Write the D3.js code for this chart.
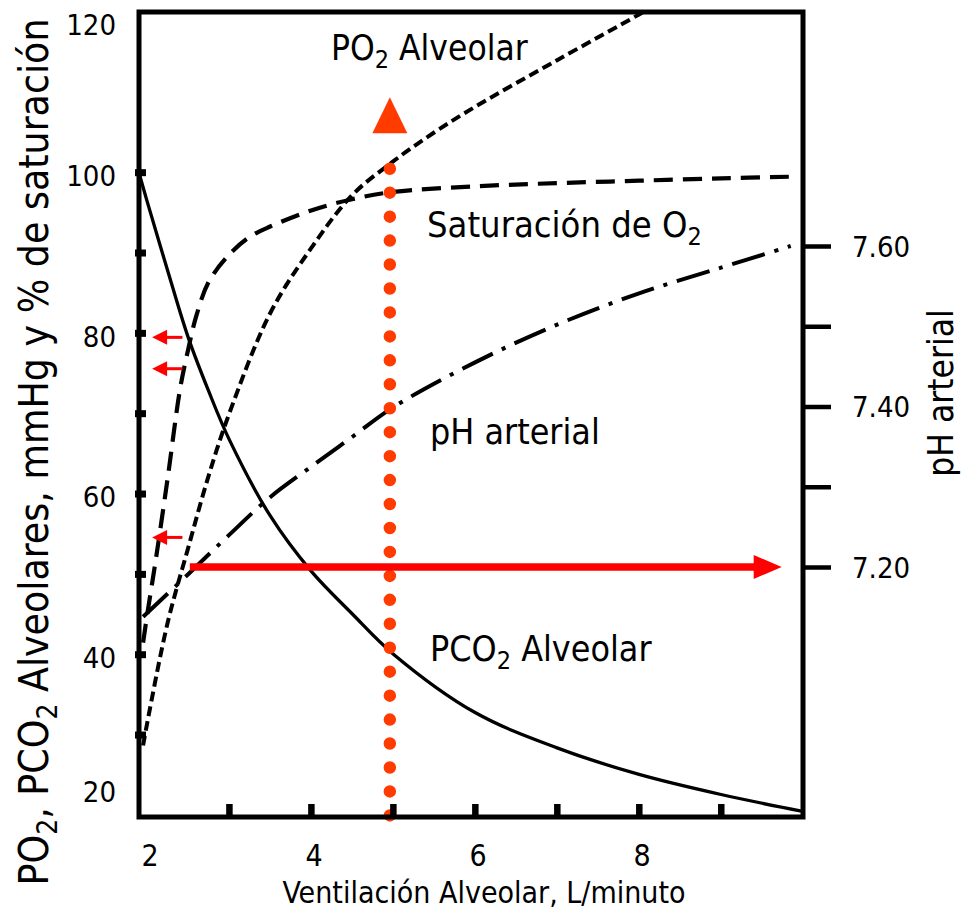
<!DOCTYPE html>
<html>
<head>
<meta charset="utf-8">
<script src="https://cdn.jsdelivr.net/npm/d3@7"></script>
<style>
  body { margin: 0; background: #fff; }
  svg text { font-family: "DejaVu Sans Condensed", "DejaVu Sans", sans-serif; font-stretch: condensed; fill: #000; }
</style>
</head>
<body>
<svg id="chart" width="967" height="916"></svg>
<script>
// ---------------- data ----------------
// PCO2 alveolar (mmHg) vs ventilación alveolar (L/min)
const pco2Vent = [1.9, 2.0, 2.25, 2.5, 2.75, 3, 3.5, 4, 4.5, 5, 6, 7, 8, 9, 10];
const pco2Vals = [100, 96.4, 87.8, 79.5, 72.8, 66.8, 57.3, 50.4, 45.1, 40.1, 32.8, 28.4, 25.1, 22.6, 20.5];

// PO2 alveolar (mmHg)
const po2Vent = [1.95, 2.0, 2.25, 2.5, 2.75, 3, 3.5, 4, 4.5, 5, 5.5, 6, 7, 8, 8.3];
const po2Vals = [28.7, 31.5, 44, 53.3, 62.3, 70, 82.5, 90.6, 97.2, 101.4, 105, 108.2, 114, 119.7, 121.5];

// Saturación de O2 (%)
const satVent = [1.95, 2.0, 2.1, 2.25, 2.4, 2.5, 2.6, 2.75, 3, 3.25, 3.5, 4, 4.5, 5, 6, 7, 8, 9, 9.85];
const satVals = [41.5, 45, 51.5, 62, 73, 78, 82.2, 86.4, 89.8, 92, 93.3, 95.3, 96.7, 97.6, 98.3, 98.7, 99, 99.3, 99.5];

// pH arterial
const phVent = [1.95, 2.5, 3, 3.5, 4, 4.5, 5, 6, 7, 8, 9, 9.85];
const phVals = [7.138, 7.191, 7.24, 7.287, 7.325, 7.362, 7.399, 7.455, 7.502, 7.541, 7.573, 7.6];

// ejes
const xTicks = [3, 4, 5, 6, 7, 8, 9];
const xLabels = [2, 4, 6, 8];
const yTicks = [30, 40, 50, 60, 70, 80, 90, 100];
const yLabels = [20, 40, 60, 80, 100, 120];
const phTicks = [7.2, 7.3, 7.4, 7.5, 7.6];
const phLabels = [7.2, 7.4, 7.6];

// flechas
const ventMarker = 4.96;       // línea vertical punteada
const ventMarkerTop = 103.4;
const phArrow = { value: 7.2, from: 2.52, to: 9.74 };
const leftArrows = [79.5, 75.6, 54.6];   // mmHg / %
const leftArrowFrom = 2.43, leftArrowTo = 2.06;

// ---------------- dimensiones ----------------
const svg = d3.select("#chart");
const mLeft = 139, mRight = 803, mTop = 12, mBottom = 817;

const x = d3.scaleLinear().domain([1.9, 10]).range([mLeft, mRight]);
const y = d3.scaleLinear().domain([19.8, 120]).range([mBottom, mTop]);
const yPh = d3.scaleLinear().domain([7.2, 7.6]).range([567, 246]);

svg.append("clipPath").attr("id", "plot")
  .append("rect")
  .attr("x", mLeft).attr("y", mTop)
  .attr("width", mRight - mLeft).attr("height", mBottom - mTop);

const g = svg.append("g").attr("clip-path", "url(#plot)");

const line = d3.line().curve(d3.curveCatmullRom.alpha(0.5));
const pts = (xs, ys, sy) => xs.map((v, i) => [x(v), sy(ys[i])]);

// PCO2 - línea continua
g.append("path")
  .attr("d", line(pts(pco2Vent, pco2Vals, y)))
  .attr("fill", "none").attr("stroke", "#000").attr("stroke-width", 3.3);

// PO2 - guiones cortos
g.append("path")
  .attr("d", line(pts(po2Vent, po2Vals, y)))
  .attr("fill", "none").attr("stroke", "#000").attr("stroke-width", 4)
  .attr("stroke-dasharray", "10,5");

// Saturación - guiones largos
g.append("path")
  .attr("d", line(pts(satVent, satVals, y)))
  .attr("fill", "none").attr("stroke", "#000").attr("stroke-width", 4.2)
  .attr("stroke-dasharray", "19,10");

// pH - raya y punto
g.append("path")
  .attr("d", line(pts(phVent, phVals, yPh)))
  .attr("fill", "none").attr("stroke", "#000").attr("stroke-width", 4)
  .attr("stroke-dasharray", "34,10,4,10");

// línea vertical punteada roja
svg.append("line")
  .attr("x1", x(ventMarker)).attr("x2", x(ventMarker))
  .attr("y1", y(20)).attr("y2", y(ventMarkerTop))
  .attr("stroke", "#ff3b00").attr("stroke-width", 12.5)
  .attr("stroke-linecap", "round")
  .attr("stroke-dasharray", "0,23.95");

const tx = x(ventMarker), tBase = y(ventMarkerTop) - 12;
svg.append("path")
  .attr("d", `M${tx},${tBase - 36}L${tx + 17.5},${tBase}L${tx - 17.5},${tBase}Z`)
  .attr("fill", "#ff3b00");

// flecha horizontal roja (pH 7.20)
const ay = yPh(phArrow.value);
svg.append("line")
  .attr("x1", x(phArrow.from)).attr("x2", x(phArrow.to) - 26)
  .attr("y1", ay).attr("y2", ay)
  .attr("stroke", "#ff0000").attr("stroke-width", 7.5);
svg.append("path")
  .attr("d", `M${x(phArrow.to)},${ay}L${x(phArrow.to) - 28},${ay - 12}L${x(phArrow.to) - 28},${ay + 12}Z`)
  .attr("fill", "#ff0000");

// flechitas rojas a la izquierda
leftArrows.forEach(v => {
  const yy = y(v), x0 = x(leftArrowFrom), x1 = x(leftArrowTo);
  svg.append("line")
    .attr("x1", x0).attr("x2", x1 + 12)
    .attr("y1", yy).attr("y2", yy)
    .attr("stroke", "#ff0000").attr("stroke-width", 3);
  svg.append("path")
    .attr("d", `M${x1},${yy}L${x1 + 15},${yy - 7.5}L${x1 + 15},${yy + 7.5}Z`)
    .attr("fill", "#ff0000");
});

// ---------------- marco y ejes ----------------
svg.append("rect")
  .attr("x", mLeft).attr("y", mTop)
  .attr("width", mRight - mLeft).attr("height", mBottom - mTop)
  .attr("fill", "none").attr("stroke", "#000").attr("stroke-width", 5);

// marcas cuadradas eje izquierdo
svg.selectAll(".ytick").data(yTicks).join("rect")
  .attr("class", "ytick")
  .attr("x", mLeft - 4).attr("y", d => y(d) - 3.5)
  .attr("width", 11).attr("height", 7).attr("fill", "#000");

svg.selectAll(".ylab").data(yLabels).join("text")
  .attr("class", "ylab")
  .attr("x", 116)
  .attr("y", d => Math.min(Math.max(y(d) + 3, 25), 792))
  .attr("dy", "0.36em")
  .attr("text-anchor", "end")
  .style("font-size", "29px")
  .text(d => d);

// marcas eje x (hacia adentro)
svg.selectAll(".xtick").data(xTicks).join("rect")
  .attr("class", "xtick")
  .attr("x", d => x(d) - 3).attr("y", mBottom - 13)
  .attr("width", 6.5).attr("height", 13).attr("fill", "#000");

svg.selectAll(".xlab").data(xLabels).join("text")
  .attr("class", "xlab")
  .attr("x", d => x(d) + 3)
  .attr("y", 866)
  .attr("text-anchor", "middle")
  .style("font-size", "30px")
  .text(d => d);

// eje derecho pH
const phAxis = svg.append("g")
  .attr("transform", `translate(${mRight},0)`)
  .call(d3.axisRight(yPh)
    .tickValues(phTicks)
    .tickSize(28)
    .tickPadding(21)
    .tickFormat(d => phLabels.includes(d) ? d.toFixed(2) : ""));
phAxis.select(".domain").remove();
phAxis.attr("font-family", null).attr("font-size", null);
phAxis.selectAll("line").attr("stroke", "#000").attr("stroke-width", 4.5);
phAxis.selectAll("text")
  .style("font-size", "29px")
  .attr("dy", "0.36em");

// ---------------- textos ----------------
function label(xp, yp, main, sub, rest, size) {
  const t = svg.append("text").attr("x", xp).attr("y", yp).style("font-size", size + "px");
  t.append("tspan").text(main);
  if (sub) {
    t.append("tspan").attr("dy", 8).style("font-size", Math.round(size * 0.7) + "px").text(sub);
    t.append("tspan").attr("dy", -8).text(rest);
  }
  return t;
}
label(331, 60, "PO", "2", " Alveolar", 35);
label(427, 237, "Saturación de O", "2", "", 36);
label(430, 444, "pH arterial", null, null, 35.5);
label(430, 661, "PCO", "2", " Alveolar", 35.5);

svg.append("text")
  .attr("x", 484).attr("y", 903)
  .attr("text-anchor", "middle")
  .style("font-size", "30px")
  .text("Ventilación Alveolar, L/minuto");

svg.append("text")
  .attr("transform", "translate(953,393) rotate(-90)")
  .attr("text-anchor", "middle")
  .style("font-size", "35px")
  .text("pH arterial");

const yt = svg.append("text")
  .attr("transform", "translate(48,452) rotate(-90)")
  .attr("text-anchor", "middle")
  .style("font-size", "40.5px");
yt.append("tspan").text("PO");
yt.append("tspan").attr("dy", 9).style("font-size", "28px").text("2");
yt.append("tspan").attr("dy", -9).text(", PCO");
yt.append("tspan").attr("dy", 9).style("font-size", "28px").text("2");
yt.append("tspan").attr("dy", -9).text(" Alveolares, mmHg y % de saturación");
</script>
</body>
</html>
